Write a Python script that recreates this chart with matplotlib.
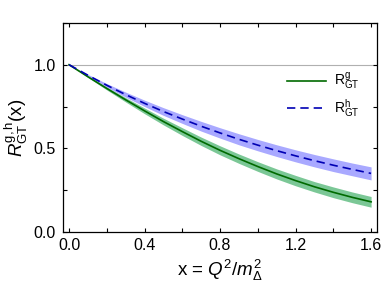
import numpy as np
import matplotlib
matplotlib.use("Agg")
import matplotlib.pyplot as plt
from matplotlib.ticker import MultipleLocator

# values
x_vals = [0.0, 0.1, 0.2, 0.3, 0.4, 0.5, 0.6, 0.7, 0.8,
          0.9, 1.0, 1.1, 1.2, 1.3, 1.4, 1.5, 1.6]
r_g = [1.000, 0.928, 0.858, 0.790, 0.724, 0.660, 0.600, 0.542, 0.488,
       0.438, 0.391, 0.347, 0.307, 0.270, 0.237, 0.207, 0.180]
r_g_err = [0.000, 0.004, 0.009, 0.013, 0.017, 0.020, 0.023, 0.025, 0.027,
           0.028, 0.029, 0.030, 0.031, 0.031, 0.032, 0.032, 0.032]
r_h = [1.000, 0.937, 0.877, 0.821, 0.769, 0.720, 0.675, 0.632, 0.592,
       0.554, 0.519, 0.486, 0.455, 0.426, 0.399, 0.374, 0.350]
r_h_err = [0.000, 0.005, 0.010, 0.015, 0.019, 0.023, 0.026, 0.029, 0.031,
           0.033, 0.034, 0.035, 0.036, 0.037, 0.038, 0.038, 0.039]

plt.rcParams['font.family'] = ['Liberation Sans', 'DejaVu Sans']
plt.rcParams['mathtext.fontset'] = 'custom'
plt.rcParams['mathtext.rm'] = 'Liberation Sans'
plt.rcParams['mathtext.it'] = 'Liberation Sans:italic'
plt.rcParams['mathtext.bf'] = 'Liberation Sans:bold'

x = np.array(x_vals)
g = np.array(r_g)
ge = np.array(r_g_err)
h = np.array(r_h)
he = np.array(r_h_err)

fig = plt.figure(figsize=(3.9, 2.86), dpi=100)
ax = fig.add_axes([0.1615, 0.189, 0.8055, 0.731])

ax.axhline(1.0, color='#b0b0b0', lw=0.8, zorder=0)

ax.fill_between(x, g - ge, g + ge, color='#5aba7c', alpha=0.8, lw=0)
ax.fill_between(x, h - he, h + he, color='#8c8cff', alpha=0.75, lw=0)
ax.plot(x, g, color='#006a00', lw=1.2, label=r'$\mathrm{R^{g}_{GT}}$')
ax.plot(x, h, color='#0000b4', lw=1.2, ls=(0, (5, 3)),
        label=r'$\mathrm{R^{h}_{GT}}$')

ax.set_xlim(-0.032, 1.632)
ax.set_ylim(0, 1.25)
ax.xaxis.set_major_locator(MultipleLocator(0.4))
ax.xaxis.set_minor_locator(MultipleLocator(0.2))
ax.yaxis.set_major_locator(MultipleLocator(0.5))
ax.yaxis.set_minor_locator(MultipleLocator(0.25))
ax.tick_params(which='both', direction='in', top=True, right=True,
               length=3, width=0.8, labelsize=11.5)
ax.tick_params(axis='x', pad=4)
ax.tick_params(axis='y', pad=5)
for s in ax.spines.values():
    s.set_linewidth(0.9)

ax.set_xlabel(r'x = $Q^2/m_{\Delta}^2$', fontsize=13.5, labelpad=4)
ax.set_ylabel(r'$R^{\mathrm{g,h}}_{\mathrm{GT}}$(x)', fontsize=13.5, labelpad=3)

ax.legend(loc='center left', bbox_to_anchor=(0.713, 0.655), frameon=False,
          fontsize=10, handlelength=2.8, handletextpad=0.6,
          borderpad=0, borderaxespad=0, labelspacing=0.35)

fig.savefig('out.png', dpi=100)
